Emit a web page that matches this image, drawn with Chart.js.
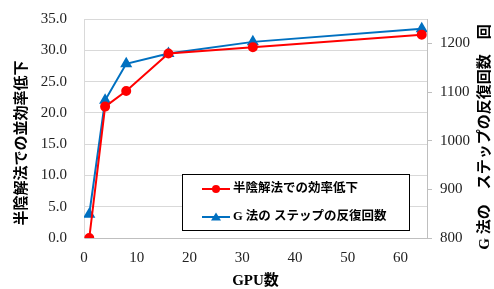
<!DOCTYPE html>
<html>
<head>
<meta charset="utf-8">
<script src="https://cdn.jsdelivr.net/npm/chart.js@4/dist/chart.umd.min.js"></script>
<style>
  html, body { margin: 0; padding: 0; background: #fff; }
</style>
</head>
<body>
<canvas id="chart" width="494" height="289"></canvas>
<script>
// data
const gpus = [1, 4, 8, 16, 32, 64];
const effDrop = [0.0, 21.0, 23.5, 29.5, 30.5, 32.5];
const iterCount = [849, 1083, 1158, 1179, 1203, 1230];
const seriesNames = ['半陰解法での効率低下', 'G 法の ステップの反復回数'];
const xTicks = [0, 10, 20, 30, 40, 50, 60];
const yTicks = [0, 5, 10, 15, 20, 25, 30, 35];
const y2Ticks = [800, 900, 1000, 1100, 1200];
const leftTitle = '半陰解法での並効率低下';
const rightTitle = 'G 法の\u3000ステップの反復回数\u3000回';
const xTitle = 'GPU数';

const red = '#FF0000';
const blue = '#0070C0';
const tickFont = { family: "'Liberation Serif', serif", size: 15 };
const boldFont = "bold 15px 'Liberation Serif', 'Noto Sans CJK JP'";

// vertical axis titles (both read bottom to top) and the boxed legend
const extras = {
  id: 'extras',
  afterDraw(chart) {
    const ctx = chart.ctx;
    ctx.save();
    ctx.fillStyle = '#000';
    ctx.font = boldFont;
    ctx.textAlign = 'center';
    ctx.textBaseline = 'middle';
    [[22, 143, leftTitle], [485, 137, rightTitle]].forEach(([x, y, t]) => {
      ctx.save();
      ctx.translate(x, y);
      ctx.rotate(-Math.PI / 2);
      ctx.fillText(t, 0, 0);
      ctx.restore();
    });

    // legend
    ctx.fillStyle = '#fff';
    ctx.fillRect(182, 174, 227, 56);
    ctx.strokeStyle = '#000';
    ctx.lineWidth = 1;
    ctx.strokeRect(182.5, 174.5, 227, 56);
    const rows = [189, 217];
    const cols = [red, blue];
    rows.forEach((y, i) => {
      ctx.strokeStyle = cols[i];
      ctx.fillStyle = cols[i];
      ctx.lineWidth = 2;
      ctx.beginPath();
      ctx.moveTo(202, y);
      ctx.lineTo(230, y);
      ctx.stroke();
      ctx.beginPath();
      if (i === 0) {
        ctx.arc(216, y, 4, 0, Math.PI * 2);
      } else {
        ctx.moveTo(216, y - 4.5);
        ctx.lineTo(221, y + 3.5);
        ctx.lineTo(211, y + 3.5);
        ctx.closePath();
      }
      ctx.fill();
      ctx.fillStyle = '#000';
      ctx.font = "bold 12.5px 'Liberation Serif', 'Noto Sans CJK JP'";
      ctx.textAlign = 'left';
      ctx.fillText(seriesNames[i], 233, y);
    });
    ctx.restore();
  }
};

new Chart(document.getElementById('chart').getContext('2d'), {
  type: 'line',
  data: {
    datasets: [
      {
        label: seriesNames[0],
        data: gpus.map((g, i) => ({ x: g, y: effDrop[i] })),
        yAxisID: 'y',
        borderColor: red,
        backgroundColor: red,
        borderWidth: 2,
        pointStyle: 'circle',
        pointRadius: 4,
        tension: 0
      },
      {
        label: seriesNames[1],
        data: gpus.map((g, i) => ({ x: g, y: iterCount[i] })),
        yAxisID: 'y2',
        borderColor: blue,
        backgroundColor: blue,
        borderWidth: 2,
        pointStyle: 'triangle',
        pointRadius: 5,
        tension: 0
      }
    ]
  },
  options: {
    responsive: false,
    animation: false,
    devicePixelRatio: 1,
    layout: { padding: { top: 19, left: 0, right: 0, bottom: 0 } },
    plugins: { legend: { display: false }, tooltip: { enabled: false } },
    scales: {
      x: {
        type: 'linear',
        position: 'bottom',
        min: 0,
        max: 65,
        afterBuildTicks: s => { s.ticks = xTicks.map(v => ({ value: v })); },
        afterFit: s => { s.height = 51; },
        grid: { display: false, drawTicks: false },
        border: { color: '#bfbfbf' },
        ticks: { font: tickFont, color: '#222', padding: 11, maxRotation: 0 },
        title: {
          display: true,
          text: xTitle,
          color: '#000',
          font: { family: "'Liberation Serif', 'Noto Sans CJK JP'", size: 15, weight: 'bold', lineHeight: 1 },
          padding: { top: 0, bottom: 0 }
        }
      },
      y: {
        position: 'left',
        min: 0,
        max: 35,
        afterBuildTicks: s => { s.ticks = yTicks.map(v => ({ value: v })); },
        afterFit: s => { s.width = 84; },
        grid: { color: '#d9d9d9', tickLength: 17, tickColor: 'rgba(0,0,0,0)' },
        border: { color: '#d9d9d9' },
        ticks: { font: tickFont, color: '#222', padding: 0, callback: v => v.toFixed(1) }
      },
      y2: {
        position: 'right',
        min: 800,
        max: 1250,
        afterBuildTicks: s => { s.ticks = y2Ticks.map(v => ({ value: v })); },
        afterFit: s => { s.width = 67; },
        grid: { drawOnChartArea: false, color: '#bfbfbf', tickLength: 5 },
        border: { color: '#bfbfbf' },
        ticks: { font: tickFont, color: '#222', padding: 8, callback: v => String(v) }
      }
    }
  },
  plugins: [extras]
});
</script>
</body>
</html>
